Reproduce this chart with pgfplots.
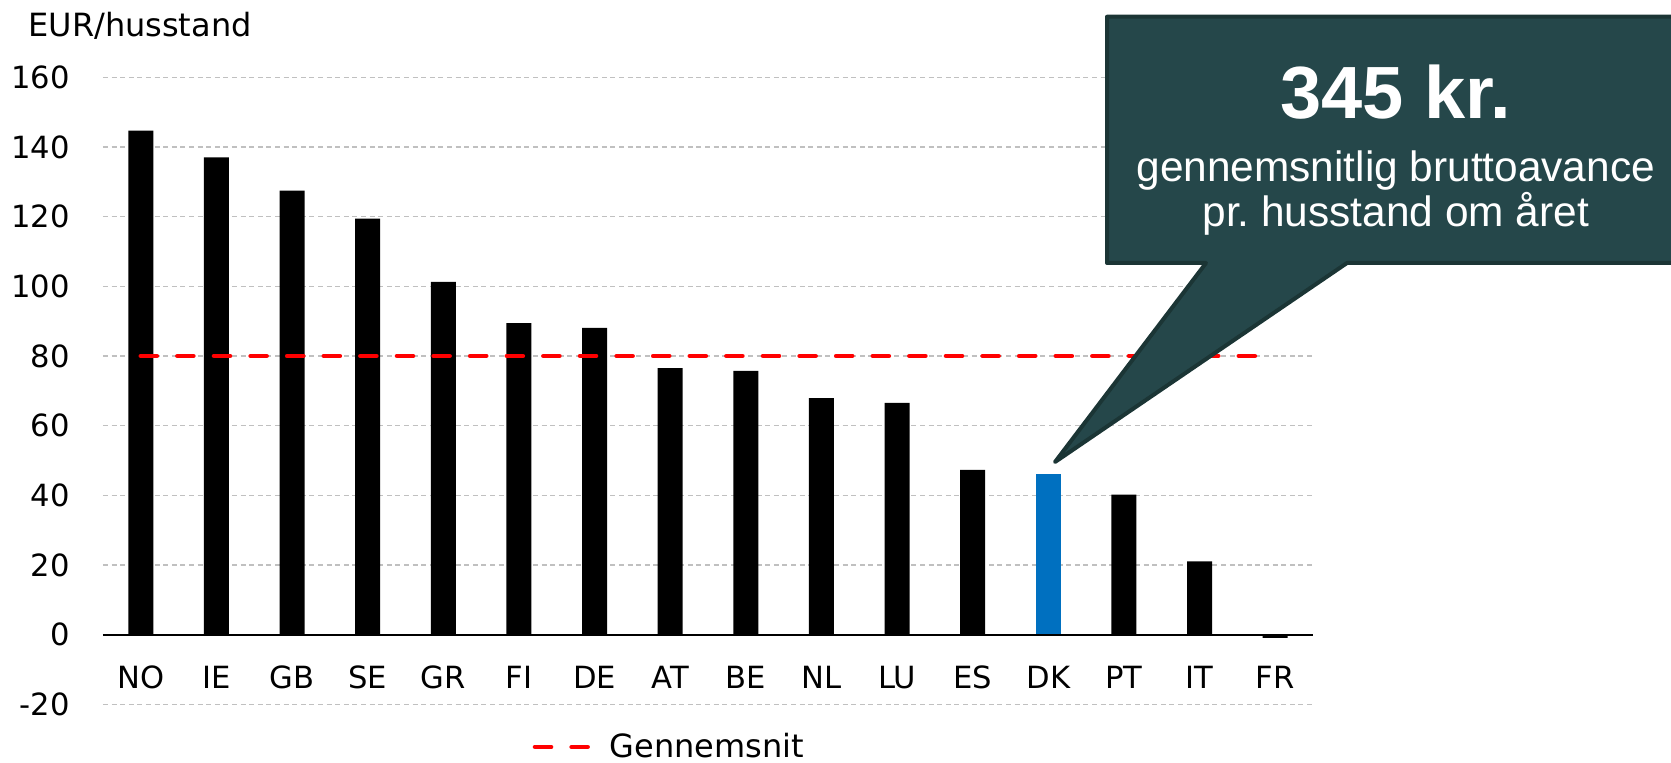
\documentclass[border=0pt]{standalone}
\usepackage{fontspec}
\setmainfont{DejaVu Sans}
\newfontfamily\arialfont{Liberation Sans}
\usepackage{pgfplots}
\pgfplotsset{compat=1.18}
\frenchspacing
\definecolor{dkblue}{HTML}{0070C0}
\definecolor{calloutfill}{HTML}{25474A}
\definecolor{calloutborder}{HTML}{1B3535}
\definecolor{gridgray}{HTML}{C0C0C0}
\definecolor{avgred}{HTML}{FF0000}
\newcommand{\chartfont}{\fontsize{15.3}{18}\selectfont}
\newcommand{\labelfont}{\fontsize{16}{19}\selectfont}
\begin{document}
\begin{tikzpicture}
\useasboundingbox (0,0) rectangle (835.5pt,381pt);
\begin{axis}[
  at={(51.5pt,28.85pt)}, anchor=south west,
  width=605pt, height=313.5pt, scale only axis,
  xmin=-0.5, xmax=15.5, ymin=-20, ymax=160,
  axis line style={draw=none},
  major tick length=0pt,
  tick style={draw=none},
  xtick={0,1,...,15},
  xticklabels={NO,IE,GB,SE,GR,FI,DE,AT,BE,NL,LU,ES,DK,PT,IT,FR},
  ytick={-20,0,20,40,60,80,100,120,140,160},
  /pgf/number format/assume math mode=true,
  tick label style={font=\chartfont},
  yticklabel style={anchor=east, inner sep=0pt, xshift=-16.5pt},
  xticklabel style={anchor=base, inner sep=0pt, yshift=8pt},
  ymajorgrids,
  grid style={gridgray, line width=0.6pt, dash pattern=on 2.5pt off 1.8pt},
  legend style={draw=none, fill=none, at={(0.469,-0.068)}, anchor=center, font=\labelfont,
    /tikz/every odd column/.append style={column sep=8pt}},
  legend image code/.code={\draw[#1] (0pt,0pt) -- (26.3pt,0pt);},
]
\addplot[ybar, bar width=12.5pt, bar shift=0pt, fill=black, draw=none, forget plot] coordinates {
  (0,144.7) (1,137.0) (2,127.5) (3,119.4) (4,101.3) (5,89.4) (6,88.1) (7,76.5)
  (8,75.7) (9,67.9) (10,66.5) (11,47.3) (13,40.2) (14,21.0) (15,-0.9)};
\addplot[ybar, bar width=12.5pt, bar shift=0pt, fill=dkblue, draw=none, forget plot] coordinates {(12,46.1)};
\draw[black, line width=1pt] (axis cs:-0.5,0) -- (axis cs:15.5,0);
\addplot[avgred, line width=2.3pt, dash pattern=on 8pt off 10.3pt, line cap=round, mark=none] coordinates {(0,80) (15,80)};
\addlegendentry{Gennemsnit}
\end{axis}
\node[anchor=base west, inner sep=0pt, font=\labelfont] at (14pt,362.65pt) {EUR/husstand};
% callout
\draw[calloutborder, fill=calloutfill, line width=2pt, line join=round]
  (553.5pt,372.65pt) -- (842.5pt,372.65pt) -- (842.5pt,249.5pt) -- (673.5pt,249.5pt)
  -- (527.5pt,150pt) -- (603pt,249.5pt) -- (553.5pt,249.5pt) -- cycle;
\node[anchor=base, inner sep=0pt, text=white, font=\arialfont\bfseries\fontsize{37}{40}\selectfont] at (697.75pt,321.85pt) {345 kr.};
\node[anchor=base, inner sep=0pt, text=white, font=\arialfont\fontsize{21.2}{24}\selectfont] at (697.85pt,290pt) {gennemsnitlig bruttoavance};
\node[anchor=base, inner sep=0pt, text=white, font=\arialfont\fontsize{21.2}{24}\selectfont] at (697.85pt,267.65pt) {pr. husstand om året};
\end{tikzpicture}
\end{document}
